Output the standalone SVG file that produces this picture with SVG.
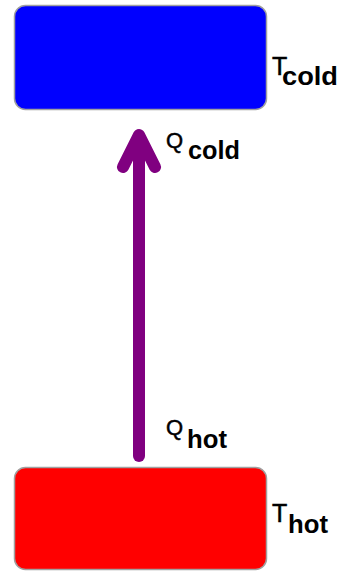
<svg xmlns="http://www.w3.org/2000/svg" width="344" height="571" viewBox="0 0 344 571">
<style>
.res{stroke:#a0a0a0;stroke-width:1.5}
text{font-family:"Liberation Sans",Arial,sans-serif;fill:#000}
.main{stroke:#000;stroke-width:0.5}
.sub{font-weight:bold}
.arr{stroke:#800080;stroke-width:12;fill:none;stroke-linecap:round;stroke-linejoin:round}
</style>
<rect width="344" height="571" fill="#fff"/>
<g id="cold">
<rect class="res" x="14.5" y="5.5" width="252" height="104" rx="11" fill="#0000ff"/>
<text class="main" x="272" y="75" font-size="25">T</text>
<text class="sub" x="282" y="85" font-size="26" textLength="56" lengthAdjust="spacingAndGlyphs">cold</text>
</g>
<g id="hot">
<rect class="res" x="14.5" y="467.5" width="252" height="102" rx="11" fill="#ff0000"/>
<text class="main" x="272" y="522" font-size="25">T</text>
<text class="sub" x="288" y="533" font-size="26" textLength="40" lengthAdjust="spacingAndGlyphs">hot</text>
</g>
<g id="connectors">
<line class="arr" x1="139" y1="456" x2="139" y2="137" stroke-linecap="butt"/>
<polyline class="arr" points="123,167 139,135 155,167"/>
<text class="main" x="166" y="148" font-size="22">Q</text>
<text class="sub" x="188" y="159" font-size="26" textLength="52" lengthAdjust="spacingAndGlyphs">cold</text>
<text class="main" x="166" y="435" font-size="22">Q</text>
<text class="sub" x="187" y="448" font-size="26" textLength="40" lengthAdjust="spacingAndGlyphs">hot</text>
</g>
</svg>
